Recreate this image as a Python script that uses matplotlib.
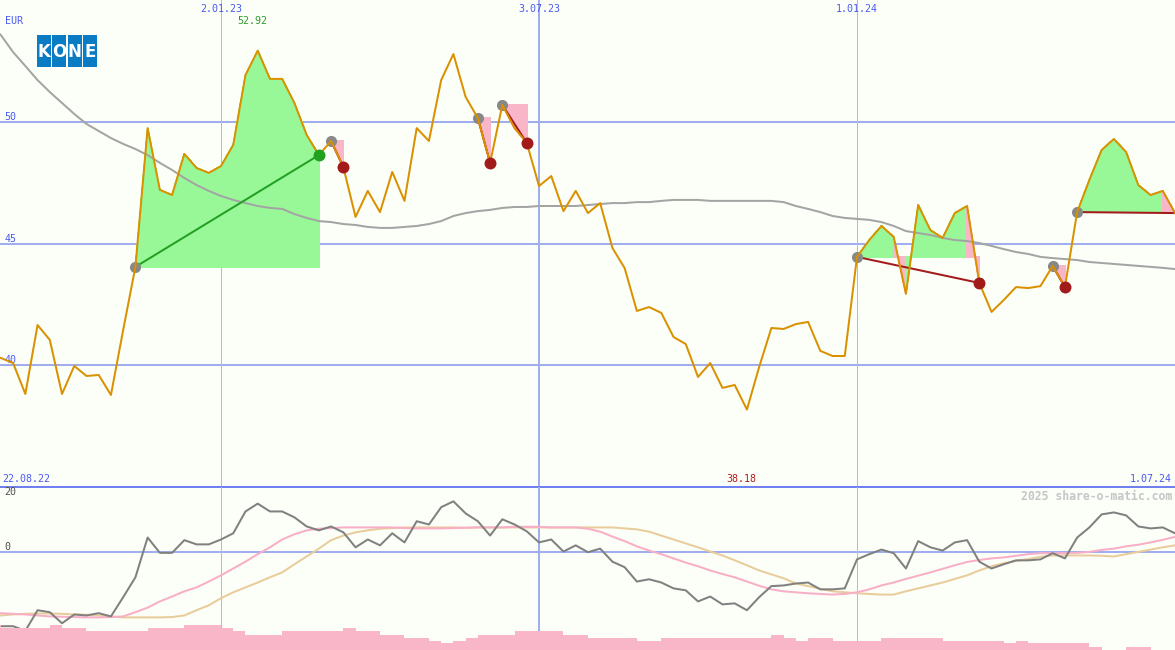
import numpy as np
import pandas as pd
import matplotlib
matplotlib.use('Agg')
from matplotlib import pyplot as plt
import matplotlib.dates as mdates
from matplotlib.patches import Rectangle

# weekly closes, 22.08.22 .. 1.07.24
dates = pd.date_range('2022-08-22', periods=98, freq='7D')
price = [40.40,
         40.30, 40.09, 38.82, 41.65, 41.04, 38.82, 39.97, 39.56, 39.60, 38.78,
         41.45, 44.04, 49.74, 47.20, 46.99, 48.68, 48.10, 47.90, 48.18, 49.05,
         51.92, 52.92, 51.76, 51.76, 50.77, 49.46, 48.63, 49.21, 48.14, 46.09,
         47.16, 46.29, 47.94, 46.75, 49.74, 49.21, 51.71, 52.78, 51.02, 50.15,
         48.31, 50.69, 49.74, 49.13, 47.36, 47.77, 46.33, 47.16, 46.25, 46.66,
         44.82, 43.99, 42.23, 42.39, 42.15, 41.16, 40.87, 39.52, 40.09, 39.07,
         39.19, 38.18, 39.93, 41.53, 41.49, 41.69, 41.78, 40.59, 40.38, 40.38,
         44.45, 45.14, 45.72, 45.27, 42.93, 46.58, 45.55, 45.23, 46.25, 46.54,
         43.38, 42.19, 42.68, 43.21, 43.17, 43.25, 44.08, 43.21, 46.29, 47.61,
         48.84, 49.29, 48.76, 47.40, 46.99, 47.16, 46.25]
moving_avg = [54.00,
              53.56, 52.86, 52.29, 51.71, 51.22, 50.77, 50.32, 49.91, 49.62, 49.33,
              49.09, 48.88, 48.63, 48.31, 48.02, 47.69, 47.40, 47.16, 46.95, 46.79,
              46.66, 46.54, 46.46, 46.42, 46.21, 46.05, 45.92, 45.88, 45.80, 45.76,
              45.68, 45.64, 45.64, 45.68, 45.72, 45.80, 45.92, 46.13, 46.25, 46.33,
              46.38, 46.46, 46.50, 46.50, 46.54, 46.54, 46.54, 46.54, 46.58, 46.62,
              46.66, 46.66, 46.70, 46.70, 46.75, 46.79, 46.79, 46.79, 46.75, 46.75,
              46.75, 46.75, 46.75, 46.75, 46.70, 46.54, 46.42, 46.29, 46.13, 46.05,
              46.01, 45.97, 45.88, 45.72, 45.51, 45.43, 45.35, 45.23, 45.14, 45.10,
              45.02, 44.90, 44.77, 44.65, 44.57, 44.45, 44.40, 44.36, 44.32, 44.24,
              44.20, 44.16, 44.12, 44.08, 44.04, 44.00, 43.95]

# indicator panel
momentum = [-22.1,
            -22.7, -22.7, -24.1, -17.8, -18.4, -21.8, -19.1, -19.4, -18.7, -19.7,
            -13.8, -7.7, 4.5, -0.2, -0.2, 3.7, 2.4, 2.4, 3.9, 5.8,
            12.5, 14.9, 12.5, 12.5, 10.7, 7.9, 6.7, 7.9, 6.1, 1.5,
            3.9, 2.1, 5.8, 3.0, 9.5, 8.5, 13.8, 15.6, 11.9, 9.5,
            5.1, 10.1, 8.5, 6.4, 3.0, 3.9, 0.2, 2.1, 0.0, 1.1,
            -2.9, -4.6, -9.0, -8.3, -9.3, -11.1, -11.7, -15.1, -13.6, -16.0,
            -15.7, -17.8, -13.8, -10.4, -10.2, -9.6, -9.3, -11.4, -11.4, -11.1,
            -2.2, -0.6, 0.8, -0.3, -5.0, 3.4, 1.5, 0.5, 3.0, 3.7,
            -2.9, -5.0, -3.7, -2.5, -2.5, -2.2, -0.3, -1.9, 4.5, 7.6,
            11.6, 12.2, 11.3, 7.9, 7.3, 7.6, 5.8]
signal_fast = [-18.6,
               -18.7, -18.9, -19.1, -19.4, -19.7, -19.8, -19.9, -20.0, -20.0, -19.9,
               -19.7, -18.4, -17.0, -15.1, -13.6, -12.0, -10.8, -9.0, -7.1, -5.0,
               -2.9, -0.6, 1.5, 3.9, 5.5, 6.7, 7.2, 7.4, 7.6, 7.6,
               7.6, 7.6, 7.6, 7.4, 7.3, 7.3, 7.3, 7.4, 7.5, 7.6,
               7.6, 7.6, 7.8, 7.8, 7.8, 7.6, 7.6, 7.6, 7.2, 6.3,
               4.8, 3.4, 1.8, 0.5, -0.6, -1.9, -3.2, -4.3, -5.6, -6.7,
               -7.7, -9.0, -10.3, -11.4, -12.0, -12.3, -12.6, -12.8, -13.0, -12.8,
               -12.3, -11.4, -10.2, -9.3, -8.2, -7.2, -6.2, -5.1, -4.0, -3.0,
               -2.4, -1.9, -1.6, -1.1, -0.6, -0.3, -0.3, -0.3, -0.2, 0.1,
               0.7, 1.1, 1.8, 2.3, 3.0, 3.8, 4.7]
signal_slow = [-19.5,
               -19.4, -19.1, -18.9, -18.8, -18.8, -18.9, -19.1, -19.2, -19.4, -19.7,
               -20.0, -20.0, -20.0, -20.0, -19.9, -19.4, -17.8, -16.3, -14.1, -12.3,
               -10.8, -9.3, -7.7, -6.2, -3.7, -1.3, 1.1, 3.7, 5.1, 6.1,
               6.7, 7.2, 7.4, 7.6, 7.6, 7.6, 7.6, 7.6, 7.5, 7.6,
               7.6, 7.6, 7.6, 7.6, 7.6, 7.6, 7.6, 7.6, 7.6, 7.6,
               7.6, 7.3, 7.0, 6.3, 5.1, 3.9, 2.7, 1.5, 0.2, -1.0,
               -2.5, -4.0, -5.6, -6.8, -8.0, -9.6, -10.4, -11.2, -12.0, -12.3,
               -12.6, -12.8, -13.0, -13.0, -12.0, -11.1, -10.2, -9.3, -8.2, -7.1,
               -5.6, -4.3, -3.4, -2.7, -2.1, -1.4, -1.0, -1.0, -1.0, -1.0,
               -1.1, -1.3, -0.6, 0.1, 0.8, 1.5, 2.1]
volume = [25, 22, 22, 22, 22, 25, 22, 22, 19, 19, 19, 19, 19, 22, 22, 22,
          25, 25, 25, 22, 19, 15, 15, 15, 19, 19, 19, 19, 19, 22, 19, 19,
          15, 15, 12, 12, 9, 7, 9, 12, 15, 15, 15, 19, 19, 19, 19, 15,
          15, 12, 12, 12, 12, 9, 9, 12, 12, 12, 12, 12, 12, 12, 12, 12,
          15, 12, 9, 12, 12, 9, 9, 9, 9, 12, 12, 12, 12, 12, 9, 9,
          9, 9, 9, 7, 9, 7, 7, 7, 7, 7, 3, 0, 0, 3, 3, 0, 0, 0]

trade_open = [12, 28, 40, 42, 71, 87, 89]
trade_close = [27, 29, 41, 44, 81, 88, 97]
trade_done = [True, True, True, True, True, True, False]

price_grid = [40, 45, 50]
mark_dates = ['2023-01-02', '2023-07-03', '2024-01-01']
mark_labels = ['2.01.23', '3.07.23', '1.01.24']
mark_major = [False, True, False]

W, H = 1175, 650
BG = '#fcfef8'
BLUE_TXT = '#4a5af0'
GRID = '#a0aef0'
GREEN_FILL = '#98f898'
PINK_FILL = '#f9b6c9'
LOSS = '#a21a1a'
WIN = '#22a022'
MONO = 'DejaVu Sans Mono'
PX = 0.72

x = mdates.date2num(dates)
price = np.array(price)

fig = plt.figure(figsize=(W / 100, H / 100), dpi=100, facecolor=BG)
ax = fig.add_axes([0, 163 / H, 1, 487 / H])
ax2 = fig.add_axes([0, 0, 1, 163 / H])
vax = ax2.twinx()

left = mdates.date2num(pd.Timestamp('2022-08-28 12:00'))
for a in (ax, ax2, vax):
    a.set_xlim(left, left + 672.5)
    a.set_axis_off()
ax.set_ylim(35, 55)
ax2.set_ylim(-30, 20)
vax.set_ylim(0, 163)

# grid
for v in price_grid:
    ax.axhline(v, color=GRID, lw=2 * PX, zorder=0)
    ax.text(0.004, v, str(v), transform=ax.get_yaxis_transform(), ha='left', va='bottom',
            family=MONO, size=7.2, color=BLUE_TXT)
ax2.axhline(0, color=GRID, lw=2 * PX, zorder=0)
ax2.axhline(20, color='#7080f0', lw=2 * PX, zorder=0, clip_on=False)
for d, lab, major in zip(mark_dates, mark_labels, mark_major):
    xd = mdates.date2num(pd.Timestamp(d))
    col = GRID if major else '#b4bade'
    lw = 2 * PX if major else 1 * PX
    ax.axvline(xd, color=col, lw=lw, zorder=0)
    ax2.axvline(xd, color=col, lw=lw, zorder=0)
    ax.text(xd, 1 - 8.5 / 487, lab, transform=ax.get_xaxis_transform(), ha='center', va='center',
            family=MONO, size=7.2, color=BLUE_TXT)

# trades: fills between price and entry level
for o, c, done in zip(trade_open, trade_close, trade_done):
    e = price[o]
    for k in range(o, c):
        col = GREEN_FILL if price[k + 1] >= e else PINK_FILL
        ax.fill([x[k], x[k], x[k + 1], x[k + 1]], [e, price[k], price[k + 1], e],
                facecolor=col, edgecolor=col, lw=0.6, antialiased=False, zorder=1)

ax.plot(x, moving_avg, color='#a4a4a4', lw=2 * PX, zorder=2)

for o, c, done in zip(trade_open, trade_close, trade_done):
    col = WIN if price[c] > price[o] else LOSS
    ax.plot([x[o], x[c]], [price[o], price[c]], color=col, lw=2 * PX, zorder=3)
    ax.plot(x[o], price[o], 'o', color='#888888', ms=8, mew=0, zorder=4)
    if done:
        ax.plot(x[c], price[c], 'o', color=col, ms=8.6, mew=0, zorder=6)

ax.plot(x, price, color='#da9100', lw=2 * PX, zorder=5)

imax = int(np.argmax(price))
imin = int(np.argmin(price))
ax.text(x[imax] - 3, 1 - 21 / 487, f'{price[imax]:.2f}', transform=ax.get_xaxis_transform(),
        ha='center', va='center', family=MONO, size=7.2, color='#2e9a2e')
ax.text(x[imin] - 3, 8.5 / 487, f'{price[imin]:.2f}', transform=ax.get_xaxis_transform(),
        ha='center', va='center', family=MONO, size=7.2, color='#b01c1c')

fig.text(5 / W, 1 - 21 / H, 'EUR', ha='left', va='center', family=MONO, size=7.2, color=BLUE_TXT)
fig.text(2 / W, 1 - 478.5 / H, dates[0].strftime('%d.%m.%y'), ha='left', va='center',
         family=MONO, size=7.2, color=BLUE_TXT)
fig.text(1172 / W, 1 - 478.5 / H, '1.07.24', ha='right', va='center',
         family=MONO, size=7.2, color=BLUE_TXT)

# indicator panel
vax.bar(x, volume, width=7, align='edge', color='#f9b6c9', lw=0)
ax2.plot(x, signal_slow, color='#e8cc9a', lw=2 * PX, zorder=2)
ax2.plot(x, signal_fast, color='#f8aec6', lw=2 * PX, zorder=2)
ax2.plot(x, momentum, color='#808080', lw=2 * PX, zorder=3)

ax2.text(0.004, 20, '20', transform=ax2.get_yaxis_transform(), ha='left', va='top',
         family=MONO, size=7.2, color='#505050')
ax2.text(0.004, 0, '0', transform=ax2.get_yaxis_transform(), ha='left', va='bottom',
         family=MONO, size=7.2, color='#505050')
ax2.text(0.004, -30, '-30', transform=ax2.get_yaxis_transform(), ha='left', va='bottom',
         family=MONO, size=7.2, color='#505050')
fig.text(1172 / W, 1 - 496 / H, '2025 share-o-matic.com', ha='right', va='center',
         family=MONO, size=8.3, weight='bold', color='#c6c6c6')

# logo
lax = fig.add_axes([36 / W, 1 - 67 / H, 62 / W, 32 / H])
lax.set_xlim(0, 4)
lax.set_ylim(0, 1)
lax.set_axis_off()
for i, ch in enumerate('KONE'):
    lax.add_patch(Rectangle((i + 0.04, 0), 0.92, 1, color='#0a7cc4', lw=0))
    lax.text(i + 0.5, 0.48, ch, ha='center', va='center', color='white',
             weight='bold', size=12, family='DejaVu Sans')

fig.savefig('out.png', dpi=100, facecolor=BG)
